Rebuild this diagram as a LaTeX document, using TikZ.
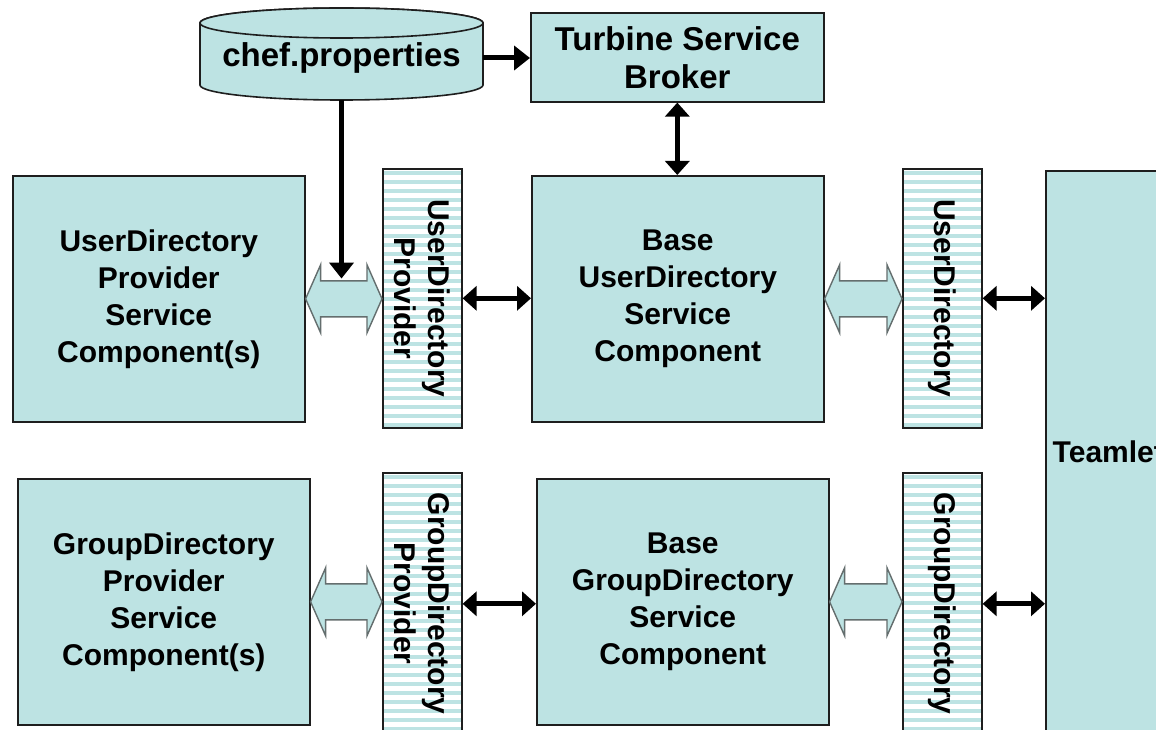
\documentclass[tikz,border=0pt]{standalone}
\usepackage{fontspec}
\setmainfont{Liberation Sans}
\usetikzlibrary{arrows.meta,calc}
\definecolor{boxfill}{RGB}{189,227,227}
\definecolor{edge}{RGB}{30,30,30}
\definecolor{hedge}{RGB}{100,110,110}
\newcommand\hollowarrow[2]{%
  \draw[hollow] let \p1=(#1.east), \p2=(#2.west) in
    (\x1,\y1) -- (\x1+15pt,\y1+34pt) -- (\x1+15pt,\y1+18pt) -- (\x2-15pt,\y1+18pt)
    -- (\x2-15pt,\y1+34pt) -- (\x2,\y1) -- (\x2-15pt,\y1-34pt) -- (\x2-15pt,\y1-18pt)
    -- (\x1+15pt,\y1-18pt) -- (\x1+15pt,\y1-34pt) -- cycle;}
\tikzset{
  comp/.style={draw=edge, line width=1.6, fill=boxfill, align=center, inner sep=0,
    anchor=north west, font=\bfseries\fontsize{30}{37}\selectfont},
  topcomp/.style={comp, font=\bfseries\fontsize{33}{38}\selectfont},
  striped/.style={draw=edge, line width=1.6, fill=white, inner sep=0, anchor=north west,
    minimum width=79, path picture={
      \foreach \k in {0,...,30}
        \fill[boxfill] ([yshift=-\k*9pt-2pt]path picture bounding box.north west) rectangle ++(100,4);}},
  vtext/.style={rotate=-90, align=center, inner sep=0, font=\bfseries\fontsize{30}{34}\selectfont},
  hollow/.style={draw=hedge, line width=1.4, fill=boxfill},
  blk/.style={line width=5, {Triangle[length=14,width=24]}-{Triangle[length=14,width=24]}},
  blkone/.style={line width=5, -{Triangle[length=16,width=24]}},
}
\begin{document}
\begin{tikzpicture}[x=1pt,y=-1pt]
\useasboundingbox (0,0) rectangle (1156,730);
\clip (0,0) rectangle (1156,730);
\fill[white] (0,0) rectangle (1156,730);

% cylinder
\filldraw[fill=boxfill, draw=edge, line width=1.6]
  (200,23) -- (200,85) arc[start angle=180, end angle=360, x radius=141.5pt, y radius=15pt]
  -- (483,23) arc[start angle=0, end angle=180, x radius=141.5pt, y radius=15pt] -- cycle;
\filldraw[fill=boxfill, draw=edge, line width=1.6] (341.5,23) ellipse[x radius=141.5pt, y radius=15pt];
\node[inner sep=0, minimum width=283, minimum height=62, font=\bfseries\fontsize{33}{38}\selectfont]
  (chef) at (341.5,58) {chef.properties};

\node[topcomp, minimum width=293, minimum height=89] (turb) at (530,12) {Turbine Service\\Broker};

% row 1
\node[comp, minimum width=292, minimum height=246] (udp) at (12,175)
  {UserDirectory\\Provider\\Service\\Component(s)};
\node[striped, minimum height=259] (udpi) at (382,168) {};
\node[vtext] (udpiT) at (udpi) {UserDirectory\\Provider};
\node[comp, minimum width=292, minimum height=246] (bud) at (531,175)
  {Base\\UserDirectory\\Service\\Component};
\node[striped, minimum height=259] (udi) at (902,168) {};
\node[vtext] (udiT) at (udi) {UserDirectory};

% row 2
\node[comp, minimum width=292, minimum height=246] (gdp) at (17,478)
  {GroupDirectory\\Provider\\Service\\Component(s)};
\node[striped, minimum height=262] (gdpi) at (382,472) {};
\node[vtext] (gdpiT) at (gdpi) {GroupDirectory\\Provider};
\node[comp, minimum width=292, minimum height=246] (bgd) at (536,478)
  {Base\\GroupDirectory\\Service\\Component};
\node[striped, minimum height=262] (gdi) at (902,472) {};
\node[vtext] (gdiT) at (gdi) {GroupDirectory};

% teamlet
\node[comp, minimum width=125, minimum height=562] (team) at (1045,170) {Teamlet};

% connectors
\draw[blkone] (chef.east) -- (chef.east -| turb.west);
\draw[blk] (turb.south) -- (turb.south |- bud.north);

\hollowarrow{udp}{udpi}
\coordinate (hatop) at ($(udp.east)!0.5!(udpi.west)+(0,-20)$);
\draw[blkone] ($(chef.south)+(0,11)$) -- (chef.south |- hatop);
\draw[blk] (udpi.east) -- (udpi.east -| bud.west);
\hollowarrow{bud}{udi}
\draw[blk] (udi.east) -- (udi.east -| team.west);

\hollowarrow{gdp}{gdpi}
\draw[blk] (gdpi.east) -- (gdpi.east -| bgd.west);
\hollowarrow{bgd}{gdi}
\draw[blk] (gdi.east) -- (gdi.east -| team.west);
\end{tikzpicture}
\end{document}
